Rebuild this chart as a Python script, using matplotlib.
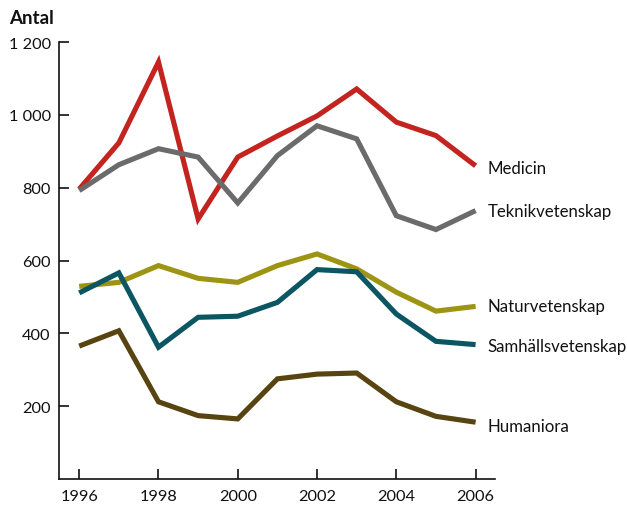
import matplotlib.pyplot as plt
import numpy as np

# Data
years = np.arange(1996, 2007)
medicin = [796, 923, 1145, 714, 884, 942, 997, 1071, 980, 943, 860]
teknik = [792, 863, 907, 884, 758, 888, 970, 934, 723, 685, 737]
natur = [529, 540, 586, 551, 540, 586, 618, 577, 513, 461, 474]
samhall = [511, 566, 362, 444, 447, 485, 575, 569, 453, 378, 369]
humaniora = [365, 407, 212, 174, 165, 275, 288, 291, 212, 172, 156]

names = ["Medicin", "Teknikvetenskap", "Naturvetenskap", "Samhällsvetenskap", "Humaniora"]
series = [medicin, teknik, natur, samhall, humaniora]
colors = ["#C4241F", "#6B6B6B", "#9C9412", "#0B5662", "#584410"]
label_y = [855, 737, 475, 366, 146]

yticks = [200, 400, 600, 800, 1000, 1200]
ytick_labels = ["200", "400", "600", "800", "1 000", "1 200"]
xticks = [1996, 1998, 2000, 2002, 2004, 2006]

plt.rcParams['font.family'] = ['Lato', 'DejaVu Sans']

fig = plt.figure(figsize=(6.27, 5.06), dpi=100)
ax = fig.add_axes([0.0941, 0.0514, 0.6954, 0.8636])

for vals, col in zip(series, colors):
    ax.plot(years, vals, color=col, linewidth=3.7, solid_joinstyle='miter', solid_capstyle='butt')

for name, ly in zip(names, label_y):
    ax.text(2006.3, ly, name, fontsize=12.1, va='center', ha='left', color='#111111')

ax.set_xlim(1995.49, 2006.49)
ax.set_ylim(0, 1200)
ax.set_yticks(yticks)
ax.set_yticklabels(ytick_labels)
ax.set_xticks(xticks)
ax.tick_params(axis='both', direction='in', length=7, width=1.2, labelsize=11.8, colors='#111111')
ax.tick_params(axis='y', pad=6)
ax.tick_params(axis='x', pad=7)
for s in ['top', 'right']:
    ax.spines[s].set_visible(False)
for s in ['left', 'bottom']:
    ax.spines[s].set_linewidth(1.2)
    ax.spines[s].set_color('#111111')
ax.spines['left'].set_bounds(0, 1200)

fig.text(0.014, 0.964, "Antal", fontsize=13.5, fontweight='bold', ha='left', va='center', color='#111111')

fig.savefig("out.png", dpi=100)
